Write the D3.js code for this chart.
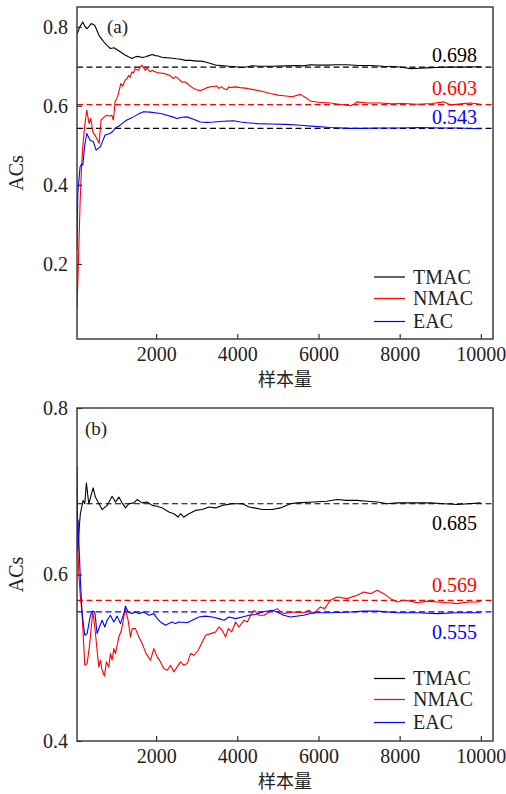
<!DOCTYPE html>
<html>
<head>
<meta charset="utf-8">
<script src="https://cdn.jsdelivr.net/npm/d3@7"></script>
<style>
  html, body { margin: 0; padding: 0; background: #fff; }
  svg { display: block; }
  text { font-family: "Liberation Serif", "DejaVu Serif", serif; fill: #222; }
</style>
</head>
<body>
<svg id="chart" width="506" height="794"></svg>
<script>
// Sample-size axis shared by both panels
const xTicks = [2000, 4000, 6000, 8000, 10000];
const seriesNames = ["TMAC", "NMAC", "EAC"];
const seriesColors = ["#000000", "#ff0000", "#0000ff"];

// Panel (a): running accuracy [sample size, AC]
const tmacA = [[50,0.781],[120,0.800],[192,0.812],[250,0.800],[299,0.795],[400,0.808],[488,0.804],[587,0.779],[650,0.770],[710,0.762],[792,0.753],[874,0.745],[960,0.747],[1040,0.742],[1140,0.735],[1244,0.728],[1320,0.724],[1409,0.720],[1490,0.724],[1573,0.725],[1660,0.722],[1740,0.724],[1820,0.727],[1902,0.730],[1980,0.727],[2050,0.726],[2140,0.723],[2231,0.722],[2350,0.721],[2500,0.719],[2600,0.718],[2724,0.715],[2850,0.715],[3000,0.713],[3100,0.713],[3218,0.711],[3340,0.707],[3464,0.703],[3600,0.702],[3794,0.700],[3950,0.699],[4123,0.697],[4250,0.699],[4370,0.701],[4600,0.700],[4863,0.700],[5200,0.701],[5450,0.702],[5628,0.701],[5801,0.704],[6000,0.703],[6200,0.703],[6450,0.704],[6706,0.704],[7000,0.702],[7281,0.702],[7600,0.700],[7940,0.699],[8100,0.697],[8268,0.694],[8500,0.695],[8680,0.696],[8900,0.697],[9082,0.698],[9500,0.698],[10000,0.699]];
const nmacA = [[50,0.084],[84,0.202],[126,0.354],[160,0.440],[192,0.496],[240,0.550],[291,0.589],[348,0.555],[390,0.568],[439,0.534],[513,0.522],[595,0.505],[644,0.564],[700,0.570],[785,0.576],[850,0.574],[908,0.576],[947,0.564],[989,0.610],[1030,0.618],[1071,0.631],[1130,0.656],[1180,0.650],[1236,0.665],[1280,0.668],[1318,0.677],[1360,0.672],[1401,0.686],[1440,0.683],[1483,0.694],[1520,0.692],[1564,0.690],[1610,0.698],[1648,0.703],[1690,0.697],[1730,0.690],[1780,0.695],[1853,0.686],[1900,0.690],[1934,0.688],[2018,0.684],[2100,0.683],[2180,0.682],[2265,0.680],[2350,0.676],[2428,0.669],[2480,0.674],[2530,0.670],[2635,0.660],[2700,0.661],[2758,0.657],[2840,0.650],[2921,0.644],[3000,0.641],[3087,0.638],[3170,0.642],[3252,0.646],[3380,0.649],[3499,0.650],[3550,0.644],[3600,0.648],[3680,0.643],[3745,0.641],[3790,0.648],[3827,0.646],[3950,0.648],[4074,0.646],[4250,0.644],[4402,0.641],[4600,0.637],[4814,0.631],[5000,0.627],[5200,0.625],[5350,0.623],[5554,0.629],[5700,0.620],[5801,0.612],[6000,0.609],[6294,0.607],[6500,0.604],[6788,0.600],[6870,0.604],[6953,0.610],[7200,0.607],[7528,0.607],[7800,0.605],[8095,0.606],[8433,0.604],[8800,0.606],[9082,0.610],[9255,0.602],[9500,0.605],[9748,0.607],[10000,0.604]];
const eacA = [[50,0.235],[70,0.379],[126,0.446],[160,0.452],[192,0.450],[240,0.500],[291,0.530],[373,0.513],[454,0.509],[521,0.488],[620,0.496],[680,0.510],[743,0.526],[866,0.530],[930,0.535],[989,0.543],[1113,0.551],[1200,0.558],[1278,0.564],[1360,0.568],[1441,0.572],[1560,0.579],[1688,0.585],[1850,0.584],[2018,0.582],[2140,0.580],[2265,0.576],[2400,0.572],[2512,0.568],[2640,0.571],[2758,0.572],[2920,0.566],[3087,0.559],[3250,0.558],[3415,0.559],[3650,0.561],[3908,0.562],[4080,0.559],[4239,0.557],[4486,0.555],[4814,0.554],[5200,0.553],[5554,0.551],[5900,0.548],[6294,0.545],[6788,0.543],[7100,0.543],[7528,0.544],[8000,0.544],[8515,0.545],[9000,0.544],[9420,0.544],[10000,0.542]];

// Panel (b)
const tmacB = [[50,0.730],[70,0.629],[110,0.660],[133,0.673],[200,0.689],[242,0.685],[281,0.710],[340,0.685],[380,0.692],[447,0.704],[503,0.693],[570,0.687],[669,0.678],[792,0.683],[915,0.694],[997,0.687],[1081,0.693],[1162,0.686],[1244,0.680],[1327,0.685],[1451,0.686],[1532,0.690],[1656,0.686],[1779,0.687],[1902,0.683],[2026,0.682],[2149,0.680],[2314,0.675],[2438,0.673],[2544,0.669],[2601,0.673],[2684,0.669],[2808,0.673],[2971,0.677],[3136,0.678],[3301,0.681],[3464,0.680],[3629,0.683],[3876,0.685],[4123,0.685],[4288,0.681],[4412,0.680],[4616,0.678],[4863,0.678],[5060,0.680],[5307,0.685],[5473,0.686],[5882,0.687],[6200,0.688],[6459,0.690],[6700,0.689],[6953,0.689],[7200,0.688],[7446,0.687],[7700,0.685],[7940,0.686],[8300,0.686],[8761,0.686],[9090,0.685],[9420,0.684],[9700,0.685],[10000,0.686]];
const nmacB = [[50,0.661],[94,0.601],[133,0.573],[175,0.553],[242,0.491],[299,0.493],[355,0.513],[439,0.555],[489,0.537],[545,0.509],[587,0.489],[627,0.497],[669,0.485],[725,0.478],[775,0.495],[834,0.489],[873,0.505],[915,0.497],[957,0.511],[997,0.505],[1081,0.525],[1145,0.533],[1204,0.549],[1244,0.559],[1310,0.545],[1367,0.525],[1409,0.535],[1490,0.535],[1574,0.525],[1656,0.517],[1754,0.505],[1860,0.497],[1944,0.511],[2026,0.501],[2107,0.495],[2191,0.487],[2272,0.485],[2354,0.491],[2438,0.483],[2519,0.489],[2601,0.495],[2684,0.491],[2766,0.493],[2847,0.505],[2931,0.503],[3037,0.509],[3136,0.519],[3217,0.527],[3341,0.529],[3464,0.531],[3548,0.537],[3629,0.533],[3711,0.525],[3778,0.535],[3859,0.531],[3958,0.543],[4041,0.537],[4165,0.545],[4246,0.543],[4328,0.551],[4412,0.557],[4535,0.551],[4658,0.551],[4782,0.555],[4863,0.556],[4979,0.559],[5142,0.553],[5389,0.555],[5635,0.554],[5759,0.557],[5882,0.553],[6047,0.561],[6150,0.559],[6294,0.569],[6459,0.573],[6706,0.571],[6953,0.575],[7116,0.579],[7281,0.577],[7446,0.581],[7609,0.577],[7775,0.571],[7940,0.567],[8100,0.569],[8268,0.568],[8433,0.566],[8700,0.568],[8927,0.567],[9200,0.566],[9420,0.565],[9700,0.567],[9914,0.567],[10000,0.568]];
const eacB = [[50,0.668],[76,0.665],[133,0.593],[175,0.553],[242,0.527],[299,0.529],[380,0.551],[439,0.556],[489,0.555],[545,0.529],[602,0.537],[669,0.545],[735,0.537],[792,0.545],[873,0.551],[957,0.543],[1039,0.550],[1120,0.541],[1204,0.553],[1244,0.562],[1310,0.555],[1392,0.553],[1490,0.555],[1574,0.553],[1698,0.555],[1821,0.551],[1944,0.553],[2026,0.547],[2107,0.543],[2230,0.539],[2314,0.541],[2396,0.543],[2477,0.541],[2561,0.543],[2766,0.542],[2889,0.545],[3055,0.549],[3217,0.550],[3383,0.549],[3548,0.547],[3671,0.545],[3795,0.549],[3958,0.547],[4123,0.549],[4288,0.551],[4451,0.552],[4616,0.555],[4863,0.557],[4979,0.555],[5142,0.551],[5307,0.549],[5635,0.551],[5882,0.554],[6294,0.554],[6788,0.555],[7100,0.556],[7446,0.556],[7940,0.554],[8433,0.554],[8927,0.553],[9420,0.554],[10000,0.554]];

// Converged values (dashed reference lines and their labels)
const finalA = [0.698, 0.603, 0.543];
const finalB = [0.685, 0.569, 0.555];
const yTicksA = [0.2, 0.4, 0.6, 0.8];
const yTicksB = [0.4, 0.6, 0.8];

const svg = d3.select("#chart");
const X0 = 77, X1 = 493;
const x = d3.scaleLinear().domain([50, 10300]).range([X0, X1]);

const panels = [
  { tag: "(a)", tagX: 107, top: 7, bottom: 339, domain: [0.01, 0.85], yTicks: yTicksA,
    series: [tmacA, nmacA, eacA], finals: finalA,
    dashColors: ["#000000", "#ff0000", "#000000"],
    labelY: [55, 88, 117.5], legendY: [277, 298.5, 321.5] },
  { tag: "(b)", tagX: 85, top: 408, bottom: 741, domain: [0.4, 0.8], yTicks: yTicksB,
    series: [tmacB, nmacB, eacB], finals: finalB,
    dashColors: ["#000000", "#ff0000", "#0000ff"],
    labelY: [523.5, 585, 632], legendY: [678.5, 699.5, 722.5] }
];

panels.forEach((p, pi) => {
  const y = d3.scaleLinear().domain(p.domain).range([p.bottom, p.top]);
  const g = svg.append("g");
  const clipId = "clip" + pi;
  g.append("clipPath").attr("id", clipId)
    .append("rect").attr("x", X0).attr("y", p.top).attr("width", X1 - X0).attr("height", p.bottom - p.top);

  // dashed convergence lines
  p.finals.forEach((v, i) => {
    g.append("line")
      .attr("x1", X0).attr("x2", X1).attr("y1", y(v)).attr("y2", y(v))
      .attr("stroke", p.dashColors[i]).attr("stroke-width", 1.2)
      .attr("stroke-dasharray", "6,3.5");
  });

  // curves
  const line = d3.line().x(d => x(d[0])).y(d => y(d[1]));
  p.series.forEach((s, i) => {
    g.append("path").datum(s)
      .attr("clip-path", `url(#${clipId})`)
      .attr("d", line)
      .attr("fill", "none")
      .attr("stroke", seriesColors[i])
      .attr("stroke-width", 1.1)
      .attr("stroke-linejoin", "round");
  });

  // axes with inward ticks
  const ax = g.append("g").attr("transform", `translate(0,${p.bottom})`)
    .call(d3.axisBottom(x).tickValues(xTicks).tickSize(-5).tickPadding(8).tickFormat(d3.format("d")));
  const ay = g.append("g").attr("transform", `translate(${X0},0)`)
    .call(d3.axisLeft(y).tickValues(p.yTicks).tickSize(-5).tickPadding(9).tickFormat(d3.format(".1f")));
  [ax, ay].forEach(a => {
    a.select(".domain").remove();
    a.selectAll(".tick line").attr("stroke", "#222").attr("stroke-width", 1.1);
    a.selectAll(".tick text").style("font-size", "20px").attr("fill", "#222")
      .style("font-family", "'Liberation Serif', serif");
  });

  // frame
  g.append("rect").attr("x", X0).attr("y", p.top)
    .attr("width", X1 - X0).attr("height", p.bottom - p.top)
    .attr("fill", "none").attr("stroke", "#333").attr("stroke-width", 1.4);

  // value labels
  p.finals.forEach((v, i) => {
    g.append("text").attr("x", 477).attr("y", p.labelY[i] + 6.5)
      .attr("text-anchor", "end").style("font-size", "20px")
      .attr("fill", seriesColors[i]).style("fill", seriesColors[i])
      .text(d3.format(".3f")(v));
  });

  // panel tag
  g.append("text").attr("x", p.tagX).attr("y", p.top + (pi === 0 ? 26 : 27))
    .style("font-size", "19px").text(p.tag);

  // legend
  seriesNames.forEach((name, i) => {
    g.append("line").attr("x1", 374).attr("x2", 405)
      .attr("y1", p.legendY[i]).attr("y2", p.legendY[i])
      .attr("stroke", seriesColors[i]).attr("stroke-width", 1.2);
    g.append("text").attr("x", 413).attr("y", p.legendY[i] + 6.5)
      .style("font-size", "20px").text(name);
  });

  // axis titles
  g.append("text")
    .attr("transform", `translate(${23},${(p.top + p.bottom) / 2}) rotate(-90)`)
    .attr("text-anchor", "middle").style("font-size", "20px").text("ACs");
  g.append("text").attr("x", (X0 + X1) / 2).attr("y", p.bottom + 47)
    .attr("text-anchor", "middle")
    .style("font-family", "'Noto Sans CJK SC', sans-serif").style("font-size", "18px")
    .text("样本量");
});
</script>
</body>
</html>
